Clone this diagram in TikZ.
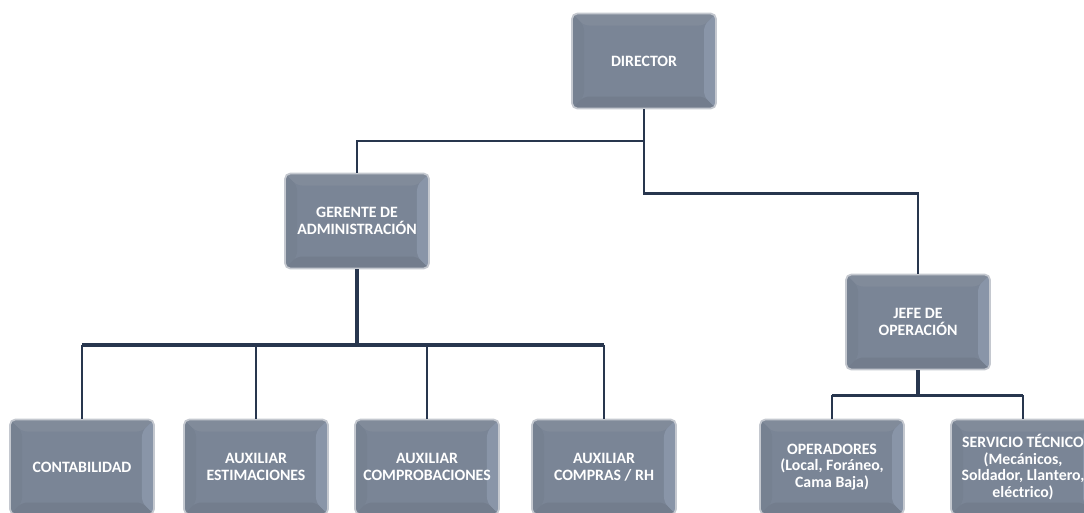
\documentclass[tikz,border=0pt]{standalone}
\usepackage{fontspec}
\setmainfont{Carlito}
\usepackage{xcolor}
\usepackage{tikz}
\usetikzlibrary{positioning}
\definecolor{cajaFondo}{RGB}{122,133,150}
\definecolor{cajaArriba}{RGB}{129,139,154}
\definecolor{cajaIzq}{RGB}{118,129,145}
\definecolor{cajaDer}{RGB}{137,149,168}
\definecolor{cajaAbajo}{RGB}{115,125,141}
\definecolor{cajaBorde}{RGB}{196,200,207}
\definecolor{linea}{RGB}{40,54,78}

\begin{document}
\begin{tikzpicture}
                [
                x=0.02cm, y=-0.02cm,
                puesto/.style={rectangle, rounded corners=3pt, draw=cajaBorde, line width=1pt,
                    fill=cajaFondo, minimum width=2.88cm, minimum height=1.9cm,
                    text=white, align=center, font=\fontsize{9}{9.6}\selectfont\bfseries,
                    path picture={
                        \fill[cajaArriba] (path picture bounding box.north west) -- (path picture bounding box.north east)
                            -- ([shift={(-0.24cm,-0.24cm)}]path picture bounding box.north east)
                            -- ([shift={(0.24cm,-0.24cm)}]path picture bounding box.north west) -- cycle;
                        \fill[cajaIzq] (path picture bounding box.north west) -- (path picture bounding box.south west)
                            -- ([shift={(0.24cm,0.24cm)}]path picture bounding box.south west)
                            -- ([shift={(0.24cm,-0.24cm)}]path picture bounding box.north west) -- cycle;
                        \fill[cajaDer] (path picture bounding box.north east) -- (path picture bounding box.south east)
                            -- ([shift={(-0.24cm,0.24cm)}]path picture bounding box.south east)
                            -- ([shift={(-0.24cm,-0.24cm)}]path picture bounding box.north east) -- cycle;
                        \fill[cajaAbajo] (path picture bounding box.south west) -- (path picture bounding box.south east)
                            -- ([shift={(-0.24cm,0.24cm)}]path picture bounding box.south east)
                            -- ([shift={(0.24cm,0.24cm)}]path picture bounding box.south west) -- cycle;
                    }},
                enlace/.style={draw=linea, line width=1.3pt},
                enlacegrueso/.style={draw=linea, line width=2.2pt}
                ]
            \useasboundingbox (0,0) rectangle (1084,512);
            % niveles
            \node[puesto] (dir) at (644,61) {DIRECTOR};
            \node[puesto] (ger) at (357,221) {GERENTE DE\\ADMINISTRACIÓN};
            \node[puesto] (jefe) at (918,322) {JEFE DE\\OPERACIÓN};
            \node[puesto] (cont) at (82,467) {CONTABILIDAD};
            \node[puesto] (est) at (256,467) {AUXILIAR\\ESTIMACIONES};
            \node[puesto] (comp) at (427,467) {AUXILIAR\\COMPROBACIONES};
            \node[puesto] (compras) at (604,467) {AUXILIAR\\COMPRAS / RH};
            \node[puesto] (oper) at (832,467) {OPERADORES\\(Local, Foráneo,\\Cama Baja)};
            \node[puesto] (serv) at (1023,467) {SERVICIO TÉCNICO\\(Mecánicos,\\Soldador, Llantero,\\eléctrico)};
            % lineas
            \coordinate (dirA) at (644,141);
            \draw[enlace] (dir.south) -- ++(0,84) -| (jefe.north);
            \draw[enlace] (dirA) -| (ger.north);
            \draw[enlacegrueso] (ger.south) -- ++(0,76) coordinate (gerB);
            \draw[enlacegrueso] (gerB -| cont.north) -- (gerB -| compras.north);
            \foreach \n in {cont,est,comp,compras}
                \draw[enlace] (\n.north |- gerB) -- (\n.north);
            \draw[enlacegrueso] (jefe.south) -- ++(0,25) coordinate (jefeB);
            \draw[enlace] (jefeB -| oper.north) -- (jefeB -| serv.north);
            \foreach \n in {oper,serv}
                \draw[enlace] (\n.north |- jefeB) -- (\n.north);
\end{tikzpicture}
\end{document}
